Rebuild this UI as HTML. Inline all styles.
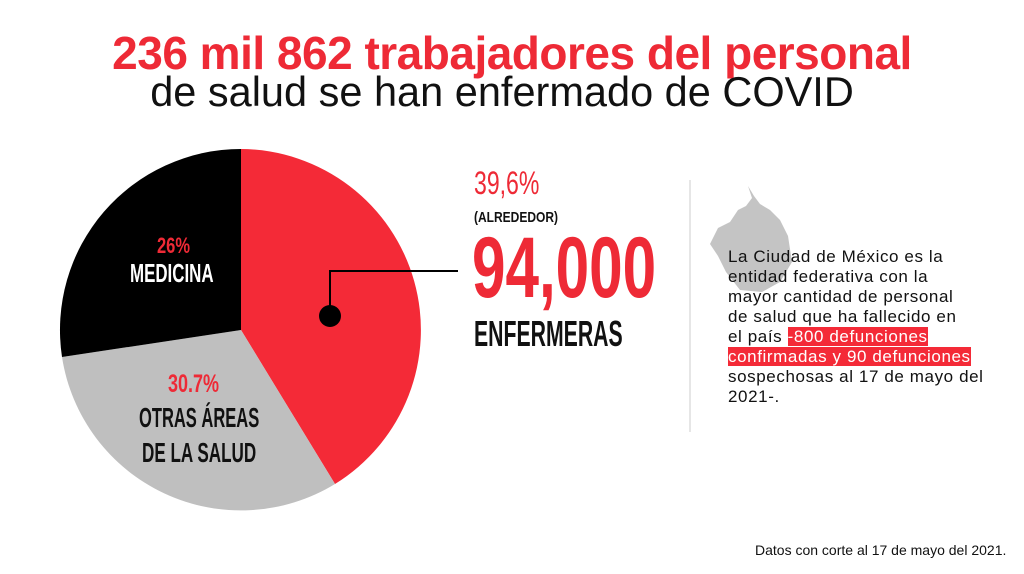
<!DOCTYPE html>
<html><head><meta charset="utf-8"><style>
body{margin:0;width:1024px;height:574px;background:#fff;position:relative;overflow:hidden;font-family:"Liberation Sans",sans-serif}
.a{position:absolute;white-space:nowrap}
.c{font-family:"Liberation Sans",sans-serif;font-weight:bold;transform-origin:0 0}
.t p{margin:0}
.hl{background:#f42a37;color:#fff}
</style></head><body>
<div class="a" style="left:0;width:1024px;top:26px;text-align:center;font-size:46px;font-weight:bold;color:#ee2a36;letter-spacing:-0.5px">236 mil 862 trabajadores del personal</div>
<div class="a" style="left:0;width:1004px;top:68px;text-align:center;font-size:41.5px;color:#111">de salud se han enfermado de COVID</div>
<svg class="a" style="left:0;top:0" width="1024" height="574">
<path d="M241,330 L241,149 A181,181 0 0 1 335,484 Z" fill="#f42a37"/>
<path d="M241,330 L335,484 A181,181 0 0 1 62,357 Z" fill="#bfbfbf"/>
<path d="M241,330 L62,357 A181,181 0 0 1 241,149 Z" fill="#000"/>
<polyline points="330,316 330,271 458,271" fill="none" stroke="#000" stroke-width="2"/>
<circle cx="330" cy="316" r="11" fill="#000"/>
<line x1="690" y1="180" x2="690" y2="432" stroke="#ddd" stroke-width="1.5"/>
<path d="M748,186 L752,198 L746,206 L738,210 L730,222 L718,228 L710,244 L718,256 L726,272 L740,290 L762,292 L780,282 L792,262 L788,236 L780,220 L770,210 L760,204 L754,196 Z" fill="#c4c4c4"/>
</svg>
<div class="a c" style="left:157px;top:233px;font-size:22px;color:#ee2a36;transform:scaleX(.75)">26%</div>
<div class="a c" style="left:130px;top:258px;font-size:26px;color:#fff;transform:scaleX(.65)">MEDICINA</div>
<div class="a c" style="left:168px;top:370px;font-size:25px;color:#ee2a36;transform:scaleX(.72)">30.7%</div>
<div class="a c" style="left:139px;top:402px;font-size:28px;color:#111;transform:scaleX(.59)">OTRAS ÁREAS</div>
<div class="a c" style="left:142px;top:437px;font-size:28px;color:#111;transform:scaleX(.61)">DE LA SALUD</div>
<div class="a c" style="left:474px;top:165px;font-size:32px;color:#ee2a36;font-weight:normal;transform:scaleX(.72)">39,6%</div>
<div class="a c" style="left:474px;top:209px;font-size:15px;color:#111;transform:scaleX(.8)">(ALREDEDOR)</div>
<div class="a c" style="left:472px;top:219px;font-size:86px;color:#ee2a36;transform:scaleX(.70)">94,000</div>
<div class="a c" style="left:474px;top:313px;font-size:36px;color:#111;transform:scaleX(.59)">ENFERMERAS</div>
<div class="a t" style="left:728px;top:247px;font-size:17px;line-height:20px;letter-spacing:0.6px;color:#111">
<p>La Ciudad de México es la</p><p>entidad federativa con la</p><p>mayor cantidad de personal</p><p>de salud que ha fallecido en</p><p>el país <span class="hl">-800 defunciones </span></p><p><span class="hl">confirmadas y 90 defunciones </span></p><p>sospechosas al 17 de mayo del</p><p>2021-.</p></div>
<div class="a" style="left:755px;top:542px;font-size:14px;color:#111">Datos con corte al 17 de mayo del 2021.</div>
</body></html>
